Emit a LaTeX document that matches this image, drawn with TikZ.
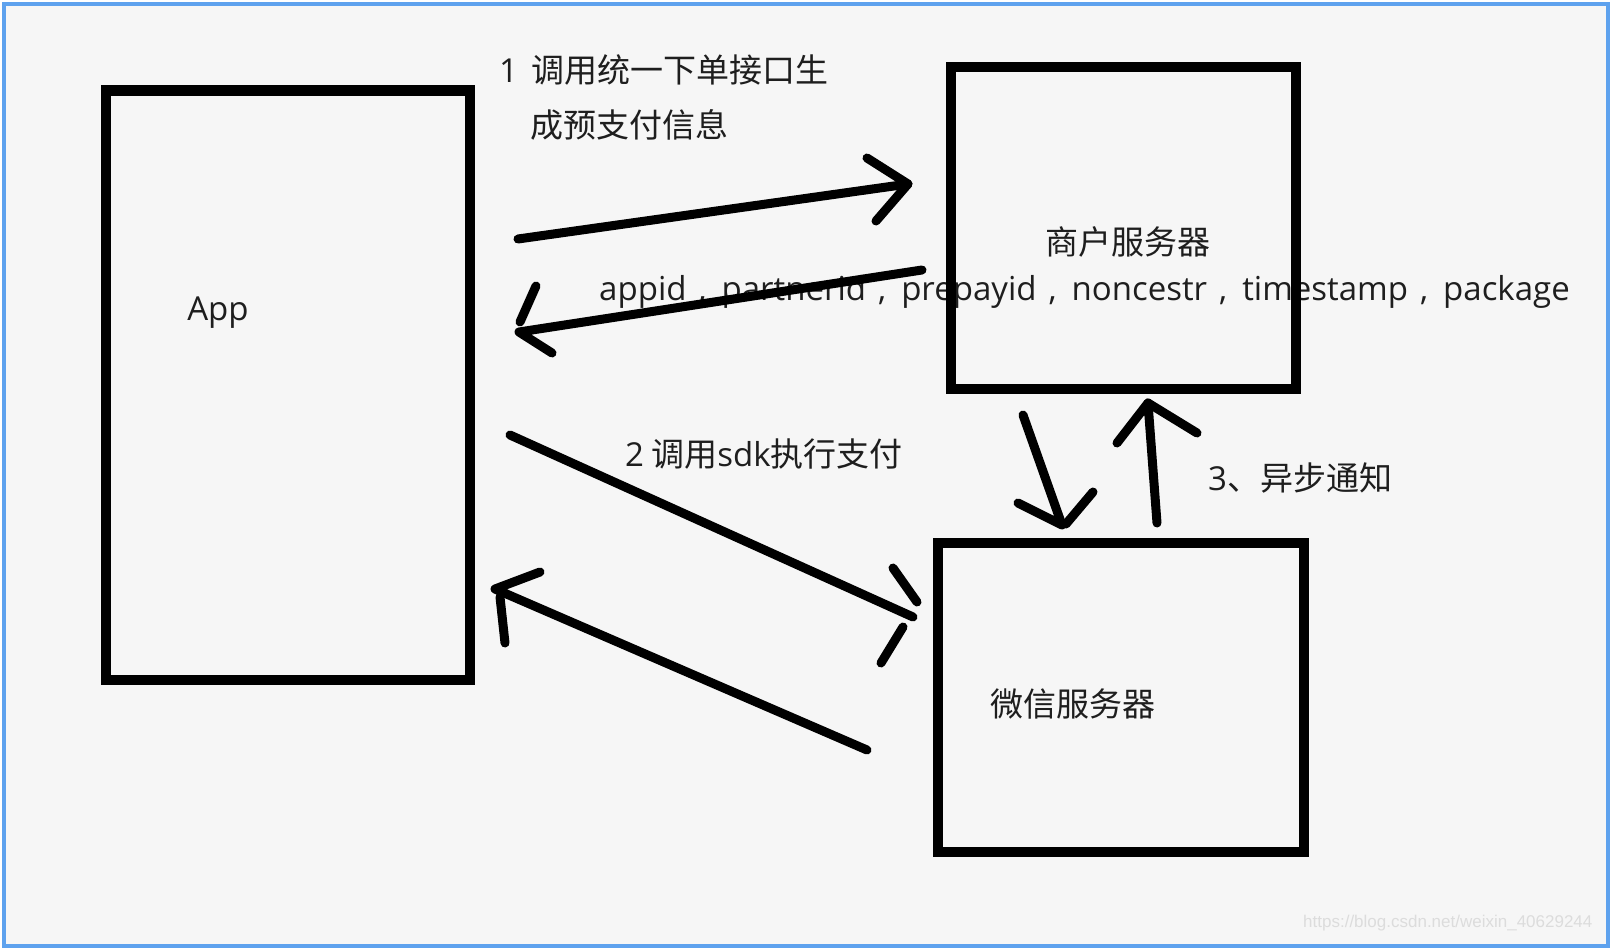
\documentclass[tikz,border=0pt]{standalone}
\usepackage{fontspec}
\setmainfont{Noto Sans CJK SC}
\newfontfamily\latfont{Open Sans}
\newfontfamily\urlfont{Liberation Sans}
\usetikzlibrary{positioning}
\definecolor{frameblue}{HTML}{5EA2EE}
\definecolor{paper}{HTML}{F6F6F6}
\definecolor{ink}{HTML}{1E1E1E}
\definecolor{mark}{HTML}{DCDCDC}
\newcommand{\fieldsep}{\hspace{12pt},\hspace{15pt}}

\begin{document}
\begin{tikzpicture}[x=1pt,y=-1pt,
  box/.style={draw=black, line width=10pt, inner sep=0pt, outer sep=0pt},
  lbl/.style={inner sep=0pt, text=ink, font=\fontsize{33}{38}\selectfont},
  stroke/.style={black, line width=9pt, line cap=round, line join=round}]
\useasboundingbox (0,0) rectangle (1612,950);
\fill[white] (0,0) rectangle (1612,950);
\fill[paper] (4,4) rectangle (1608,946);
\draw[frameblue, line width=4pt] (4,4) rectangle (1608,946);

\node[lbl] (applbl) at (218,313) {\latfont App};
\node[lbl] (merchlbl) at (1128,242) {商户服务器};
\node[lbl] (wxlbl) at (1073,704) {微信服务器};
\node[lbl, anchor=west] (call1) at (499,70) {{\latfont 1}\hspace{13pt}调用统一下单接口生};
\node[lbl, anchor=west] (call1b) at (530,125) {成预支付信息};
\node[lbl, anchor=west] (call2) at (625,454) {{\latfont 2} 调用{\latfont sdk}执行支付};
\node[lbl, anchor=west] (notify) at (1208,478) {{\latfont 3}、异步通知};
\node[lbl, anchor=west] (params) at (599,292) {\latfont appid\fieldsep partnerid\fieldsep prepayid\fieldsep noncestr\fieldsep timestamp\fieldsep package};
\node[inner sep=0pt, anchor=west, text=mark, font=\urlfont\fontsize{17}{20}\selectfont] (wmark) at (1303,923) {https://blog.csdn.net/weixin\_40629244};

\node[box, minimum width=364, minimum height=589] (app) at (288,385) {};
\node[box, minimum width=345, minimum height=322] (merchant) at (1123.5,228) {};
\node[box, minimum width=366, minimum height=309] (wechat) at (1121,697.5) {};

\coordinate (r1s) at (518,239);
\coordinate (r1t) at (908,184);
\coordinate (r2s) at (922,270);
\coordinate (r2t) at (519,332);
\coordinate (p1s) at (510,435);
\coordinate (p1t) at (913,617);
\coordinate (p2s) at (867,750);
\coordinate (p2t) at (495,589);
\coordinate (n1s) at (1023,415);
\coordinate (n1t) at (1062,525);
\coordinate (n2s) at (1157,523);
\coordinate (n2t) at (1148,403);

\draw[stroke] (r1s) -- (r1t);
\draw[stroke] (867,158) -- (r1t) -- (876,221);
\draw[stroke] (r2s) -- (r2t) -- (552,353);
\draw[stroke] (520,322) -- (536,286);
\draw[stroke] (p1s) -- (p1t);
\draw[stroke] (893,568) -- (917,602);
\draw[stroke] (903,627) -- (881,663);
\draw[stroke] (p2s) -- (p2t) -- (540,572);
\draw[stroke] (500,597) -- (505,643);
\draw[stroke] (n1s) -- (n1t) -- (1018,503);
\draw[stroke] (1066,524) -- (1093,492);
\draw[stroke] (n2s) -- (n2t) -- (1117,443);
\draw[stroke] (n2t) -- (1197,433);
\end{tikzpicture}
\end{document}
